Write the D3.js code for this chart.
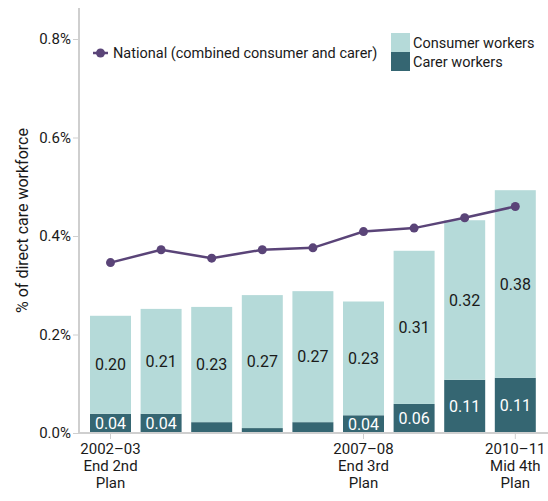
<!DOCTYPE html>
<html>
<head>
<meta charset="utf-8">
<script src="https://cdn.jsdelivr.net/npm/d3@7"></script>
<style>
  body { margin: 0; background: #fff; overflow: hidden; }
  svg { display: block; }
  svg text { font-family: Roboto, "Liberation Sans", sans-serif; fill: #1a1a1a; }
</style>
</head>
<body>
<div id="chart"></div>
<script>
const years = ["2002–03", "2003–04", "2004–05", "2005–06", "2006–07", "2007–08", "2008–09", "2009–10", "2010–11"];
const tickLabels = {
    "2002–03": ["2002–03", "End 2nd", "Plan"],
    "2007–08": ["2007–08", "End 3rd", "Plan"],
    "2010–11": ["2010–11", "Mid 4th", "Plan"]
};
const carer = [0.039, 0.039, 0.022, 0.010, 0.022, 0.036, 0.059, 0.108, 0.112];
const consumer = [0.199, 0.213, 0.234, 0.270, 0.266, 0.231, 0.311, 0.324, 0.381];
const national = [0.346, 0.372, 0.355, 0.372, 0.376, 0.409, 0.416, 0.437, 0.460];
const yTicks = [0, 0.2, 0.4, 0.6, 0.8];

const width = 548;
const height = 501;
const margin = { top: 8, right: 0, bottom: 68, left: 79 };
const innerWidth = width - margin.left - margin.right;
const innerHeight = height - margin.top - margin.bottom;

const carerColor = "#356672";
const consumerColor = "#b5dad9";
const lineColor = "#5a4478";
const axisColor = "#cfcfcf";

const svg = d3.select("#chart")
    .append("svg")
    .attr("width", width)
    .attr("height", height);

const g = svg.append("g")
    .attr("transform", `translate(${margin.left}, ${margin.top})`);

const xScale = d3.scaleBand()
    .domain(years)
    .range([6.2, 461.6])
    .paddingInner(0.19)
    .paddingOuter(0.095);

const yScale = d3.scaleLinear()
    .domain([0, 0.8])
    .range([innerHeight, 31]);

// y axis
const yAxis = d3.axisLeft(yScale)
    .tickValues(yTicks)
    .tickSize(6)
    .tickFormat(d => d.toFixed(1) + "%");

const yAxisG = g.append("g").call(yAxis);
yAxisG.select(".domain").remove();
yAxisG.selectAll(".tick line").attr("stroke", axisColor).attr("stroke-width", 1);
yAxisG.selectAll(".tick text").style("font-size", "15px").attr("x", -8);

g.append("line")
    .attr("x1", 0).attr("x2", 0)
    .attr("y1", 0).attr("y2", innerHeight)
    .attr("stroke", axisColor)
    .attr("stroke-width", 2);

// stacked bars
const stackData = years.map((y, i) => ({ year: y, carer: carer[i], consumer: consumer[i] }));

g.selectAll(".bar-carer")
    .data(stackData)
    .enter()
    .append("rect")
    .attr("x", d => xScale(d.year))
    .attr("width", xScale.bandwidth())
    .attr("y", d => yScale(d.carer))
    .attr("height", d => yScale(0) - yScale(d.carer))
    .attr("fill", carerColor);

g.selectAll(".bar-consumer")
    .data(stackData)
    .enter()
    .append("rect")
    .attr("x", d => xScale(d.year))
    .attr("width", xScale.bandwidth())
    .attr("y", d => yScale(d.carer + d.consumer))
    .attr("height", d => yScale(d.carer) - yScale(d.carer + d.consumer))
    .attr("fill", consumerColor);

// value labels
g.selectAll(".label-consumer")
    .data(stackData)
    .enter()
    .append("text")
    .attr("x", d => xScale(d.year) + xScale.bandwidth() / 2)
    .attr("y", d => yScale(d.carer + d.consumer / 2))
    .attr("dy", "0.35em")
    .attr("text-anchor", "middle")
    .style("font-size", "16px")
    .text(d => d.consumer.toFixed(2));

g.selectAll(".label-carer")
    .data(stackData.filter(d => d.carer >= 0.03))
    .enter()
    .append("text")
    .attr("x", d => xScale(d.year) + xScale.bandwidth() / 2)
    .attr("y", d => yScale(d.carer / 2))
    .attr("dy", "0.35em")
    .attr("text-anchor", "middle")
    .style("font-size", "16px")
    .style("fill", "#fff")
    .text(d => d.carer.toFixed(2));

// x axis
g.append("line")
    .attr("x1", 0).attr("x2", innerWidth)
    .attr("y1", innerHeight).attr("y2", innerHeight)
    .attr("stroke", axisColor)
    .attr("stroke-width", 2);

const xTicks = g.append("g")
    .selectAll("g")
    .data(years.filter(y => tickLabels[y]))
    .enter()
    .append("g")
    .attr("transform", d => `translate(${xScale(d) + xScale.bandwidth() / 2}, ${innerHeight})`);

xTicks.append("line")
    .attr("y1", 0).attr("y2", 6)
    .attr("stroke", axisColor);

xTicks.each(function(d) {
    const t = d3.select(this).append("text")
        .attr("text-anchor", "middle")
        .style("font-size", "15px");
    tickLabels[d].forEach((s, i) => {
        t.append("tspan")
            .attr("x", 0)
            .attr("y", 21 + i * 17)
            .text(s);
    });
});

// national line
const line = d3.line()
    .x((d, i) => xScale(years[i]) + xScale.bandwidth() / 2)
    .y(d => yScale(d));

g.append("path")
    .datum(national)
    .attr("d", line)
    .attr("fill", "none")
    .attr("stroke", lineColor)
    .attr("stroke-width", 2.5);

g.selectAll(".dot")
    .data(national)
    .enter()
    .append("circle")
    .attr("cx", (d, i) => xScale(years[i]) + xScale.bandwidth() / 2)
    .attr("cy", d => yScale(d))
    .attr("r", 4.5)
    .attr("fill", lineColor);

// y axis label
g.append("text")
    .attr("transform", "rotate(-90)")
    .attr("x", -innerHeight / 2)
    .attr("y", -margin.left + 28)
    .attr("text-anchor", "middle")
    .style("font-size", "16px")
    .text("% of direct care workforce");

// legend
const legend = g.append("g");
legend.append("line")
    .attr("x1", 14).attr("x2", 29)
    .attr("y1", 45).attr("y2", 45)
    .attr("stroke", lineColor)
    .attr("stroke-width", 2.5);
legend.append("circle")
    .attr("cx", 21.5).attr("cy", 45).attr("r", 4.5)
    .attr("fill", lineColor);
legend.append("text")
    .attr("x", 34).attr("y", 45)
    .attr("dy", "0.35em")
    .style("font-size", "14.5px")
    .text("National (combined consumer and carer)");

const legendItems = [
    { label: "Consumer workers", color: consumerColor },
    { label: "Carer workers", color: carerColor }
];
legendItems.forEach((item, i) => {
    legend.append("rect")
        .attr("x", 312).attr("y", 25 + i * 19)
        .attr("width", 19).attr("height", 19)
        .attr("fill", item.color);
    legend.append("text")
        .attr("x", 334).attr("y", 35 + i * 19)
        .attr("dy", "0.35em")
        .style("font-size", "14.5px")
        .text(item.label);
});
</script>
</body>
</html>
